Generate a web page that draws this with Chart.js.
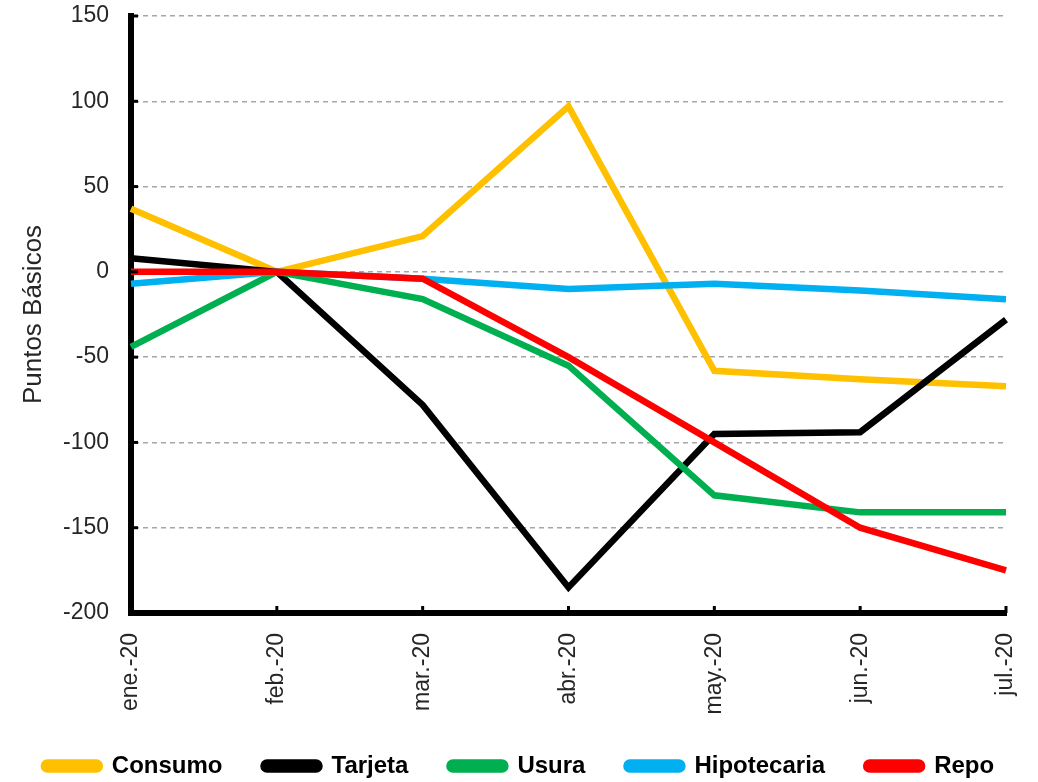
<!DOCTYPE html>
<html>
<head>
<meta charset="utf-8">
<script src="https://cdn.jsdelivr.net/npm/chart.js@4"></script>
<style>
  html, body { margin: 0; padding: 0; background: #fff; }
  #wrap { width: 1038px; height: 782px; position: relative; }
</style>
</head>
<body>
<div id="wrap"><canvas id="chart"></canvas></div>
<script>
// Data
const categories = ['ene.-20', 'feb.-20', 'mar.-20', 'abr.-20', 'may.-20', 'jun.-20', 'jul.-20'];
const consumo = [37, 0, 21, 97, -58, -63, -67];
const tarjeta = [8, 0, -78, -185, -95, -94, -28];
const usura = [-44, 0, -16, -55, -131, -141, -141];
const hipotecaria = [-7, 0, -4, -10, -7, -11, -16];
const repo = [0, 0, -4, -50, -100, -150, -175];
const yTicks = [150, 100, 50, 0, -50, -100, -150, -200];

const seriesNames = ['Consumo', 'Tarjeta', 'Usura', 'Hipotecaria', 'Repo'];
const seriesData = [consumo, tarjeta, usura, hipotecaria, repo];
const seriesColors = ['#FFC000', '#000000', '#00B050', '#00B0F0', '#FF0000'];

const tickFont = "'Liberation Sans', Arial, sans-serif";

// small inward tick marks on both axes
const innerTicks = {
    id: 'innerTicks',
    afterDraw(chart) {
        const { ctx, chartArea, scales } = chart;
        ctx.save();
        ctx.strokeStyle = '#000';
        ctx.lineWidth = 3;
        scales.y.ticks.forEach((t, i) => {
            const y = scales.y.getPixelForTick(i);
            ctx.beginPath();
            ctx.moveTo(chartArea.left, y);
            ctx.lineTo(chartArea.left + 7, y);
            ctx.stroke();
        });
        scales.x.ticks.forEach((t, i) => {
            const x = scales.x.getPixelForTick(i);
            ctx.beginPath();
            ctx.moveTo(x, chartArea.bottom);
            ctx.lineTo(x, chartArea.bottom - 7);
            ctx.stroke();
        });
        ctx.restore();
    }
};

const noPad = s => {
    s.paddingTop = 0;
    s.paddingBottom = 0;
    s.paddingLeft = 0;
    s.paddingRight = 0;
};

new Chart(document.getElementById('chart'), {
    type: 'line',
    data: {
        labels: categories,
        datasets: seriesNames.map((name, i) => ({
            label: name,
            data: seriesData[i],
            borderColor: seriesColors[i],
            backgroundColor: seriesColors[i],
            borderWidth: 6.5,
            pointRadius: 0,
            tension: 0,
            fill: false,
            order: seriesNames.length - i // later series drawn on top
        }))
    },
    options: {
        responsive: true,
        maintainAspectRatio: false,
        animation: false,
        layout: { padding: { left: 0, right: 0, top: 16, bottom: -6 } },
        plugins: {
            tooltip: { enabled: false },
            legend: {
                position: 'bottom',
                labels: {
                    sort: (a, b) => a.datasetIndex - b.datasetIndex,
                    boxWidth: 56,
                    boxHeight: 7,
                    useBorderRadius: true,
                    borderRadius: 3.5,
                    padding: 41,
                    color: '#000',
                    font: { family: tickFont, size: 24, weight: 'bold' }
                }
            }
        },
        scales: {
            x: {
                offset: false,
                grid: { display: false },
                border: { display: true, color: '#000', width: 6 },
                ticks: {
                    maxRotation: 90,
                    minRotation: 90,
                    padding: 12,
                    color: '#262626',
                    font: { family: tickFont, size: 23 }
                },
                afterFit: s => { s.height = 100; noPad(s); }
            },
            y: {
                min: -200,
                max: 150,
                afterBuildTicks: s => { s.ticks = yTicks.map(v => ({ value: v })); },
                grid: {
                    drawTicks: false,
                    lineWidth: 1.5,
                    color: c => (c.tick && c.tick.value === -200) ? 'rgba(0,0,0,0)' : '#a6a6a6'
                },
                border: { display: true, color: '#000', width: 6, dash: [5, 4] },
                ticks: {
                    padding: 22,
                    color: '#262626',
                    font: { family: tickFont, size: 23 }
                },
                title: {
                    display: true,
                    text: 'Puntos Básicos',
                    color: '#262626',
                    padding: { top: 18, bottom: 0 },
                    font: { family: tickFont, size: 26 }
                },
                afterFit: s => { s.width = 131; noPad(s); }
            },
            yRight: {
                position: 'right',
                min: 0,
                max: 1,
                grid: { display: false },
                border: { display: false },
                ticks: { display: false },
                afterFit: s => { s.width = 32; noPad(s); }
            }
        }
    },
    plugins: [innerTicks]
});
</script>
</body>
</html>
